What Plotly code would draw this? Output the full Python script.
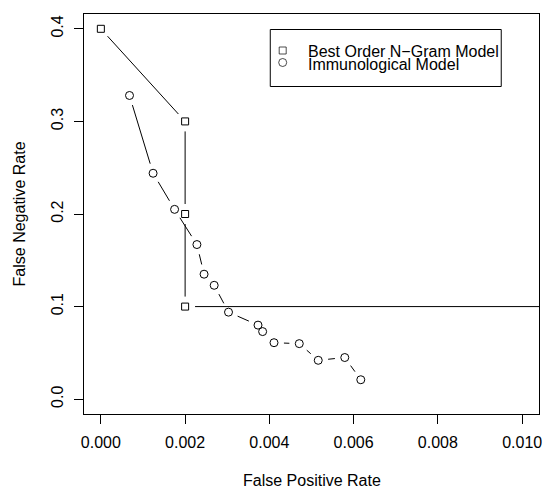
import math
import plotly.graph_objects as go

# Best order N-gram model operating points (the last one runs off to the right edge)
ngram_fpr = [0.000, 0.002, 0.002, 0.002, 1.000]
ngram_fnr = [0.40, 0.30, 0.20, 0.10, 0.10]

# Immunological model operating points
immune_fpr = [0.00068, 0.00124, 0.00175, 0.00228, 0.00245, 0.00269, 0.00303,
              0.00373, 0.00384, 0.00411, 0.00471, 0.00516, 0.00579, 0.00617]
immune_fnr = [0.328, 0.244, 0.205, 0.167, 0.135, 0.123, 0.094,
              0.080, 0.073, 0.061, 0.060, 0.042, 0.045, 0.021]

x_ticks = [0.000, 0.002, 0.004, 0.006, 0.008, 0.010]
y_ticks = [0.0, 0.1, 0.2, 0.3, 0.4]

series_names = ["Best Order N\u2212Gram Model", "Immunological Model"]

# page / plot geometry
W, H = 545, 489
ML, MR, MT, MB = 84, 3, 14, 75
XR = [-0.0004, 0.0104]
YR = [-0.016, 0.416]
PW, PH = W - ML - MR, H - MT - MB
SX = PW / (XR[1] - XR[0])
SY = PH / (YR[1] - YR[0])
GAP = 10  # px left open around each point, like type="b" in R

FONT = "Liberation Sans, Arial, Helvetica, sans-serif"


def px_x(px):
    return (px - ML) / PW


def px_y(py):
    return (H - MB - py) / PH


def gapped(xs, ys):
    """Segments between consecutive points, shortened at both ends."""
    ox, oy = [], []
    for x0, y0, x1, y1 in zip(xs, ys, xs[1:], ys[1:]):
        d = math.hypot((x1 - x0) * SX, (y1 - y0) * SY)
        if d <= 2 * GAP:
            continue
        f = GAP / d
        ox += [x0 + (x1 - x0) * f, x1 - (x1 - x0) * f, None]
        oy += [y0 + (y1 - y0) * f, y1 - (y1 - y0) * f, None]
    return ox, oy


fig = go.Figure()

for xs, ys, sym, size in [(ngram_fpr, ngram_fnr, "square-open", 7),
                          (immune_fpr, immune_fnr, "circle-open", 8)]:
    gx, gy = gapped(xs, ys)
    fig.add_trace(go.Scatter(x=gx, y=gy, mode="lines",
                             line=dict(color="black", width=1),
                             hoverinfo="skip", showlegend=False))
    fig.add_trace(go.Scatter(x=xs, y=ys, mode="markers",
                             marker=dict(symbol=sym, size=size, color="black",
                                         line=dict(color="black", width=1)),
                             showlegend=False))

# legend drawn on an overlay axis measured in page pixels
fig.add_trace(go.Scatter(x=[284, 284], y=[50.5, 62.5], mode="markers",
                         xaxis="x2", yaxis="y2", cliponaxis=False,
                         marker=dict(symbol=["square-open", "circle-open"],
                                     size=[7, 8], color="black",
                                     line=dict(color="black", width=1)),
                         hoverinfo="skip", showlegend=False))

txt_font = dict(family=FONT, size=16, color="black")
annotations = [
    dict(x=px_x(307.5), y=px_y(51.0), text=series_names[0]),
    dict(x=px_x(307.5), y=px_y(64.5), text=series_names[1]),
]
annotations = [dict(a, xref="paper", yref="paper", xanchor="left", yanchor="middle",
                    showarrow=False, font=txt_font)
               for a in annotations]
annotations += [
    dict(x=px_x(313), y=px_y(480), xref="paper", yref="paper",
         text="False Positive Rate", showarrow=False,
         xanchor="center", yanchor="middle", font=txt_font),
    dict(x=px_x(19), y=px_y(214), xref="paper", yref="paper",
         text="False Negative Rate", showarrow=False,
         xanchor="center", yanchor="middle", textangle=-90, font=txt_font),
]

axis_common = dict(showgrid=False, zeroline=False, showline=True, mirror=True,
                   linecolor="black", linewidth=1, ticks="outside", ticklen=9,
                   tickwidth=1, tickcolor="black",
                   tickfont=dict(family=FONT, size=16, color="black"))

fig.update_layout(
    width=W, height=H,
    margin=dict(l=ML, r=MR, t=MT, b=MB),
    paper_bgcolor="white", plot_bgcolor="white",
    xaxis=dict(axis_common, range=XR, tickvals=x_ticks, tickformat=".3f",
               ticklabelstandoff=5, ticklabeloverflow="allow"),
    yaxis=dict(axis_common, range=YR, tickvals=y_ticks, tickformat=".1f",
               tickangle=-90, ticklabelstandoff=5),
    xaxis2=dict(overlaying="x", range=[ML, W - MR], visible=False),
    yaxis2=dict(overlaying="y", range=[H - MB, MT], visible=False),
    shapes=[dict(type="rect", xref="paper", yref="paper",
                 x0=px_x(271.5), x1=px_x(504), y0=px_y(29.5), y1=px_y(86.5),
                 line=dict(color="black", width=1), fillcolor="rgba(0,0,0,0)")],
    annotations=annotations,
    showlegend=False,
)

fig.write_html("out.html")
